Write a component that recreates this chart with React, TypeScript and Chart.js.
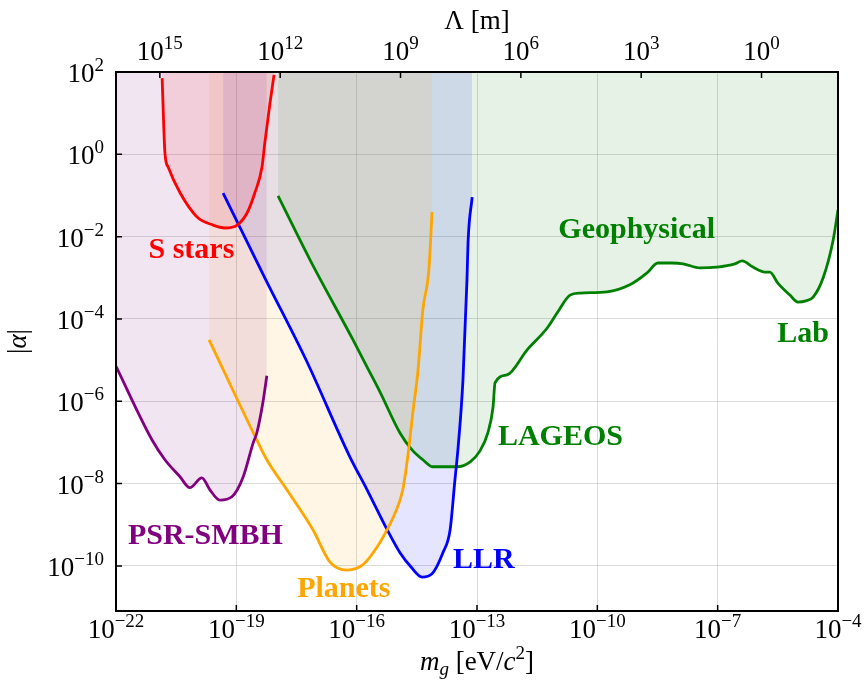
import React, { useEffect, useRef } from 'react';
import { Chart, registerables } from 'chart.js';

Chart.register(...registerables);

// ---- axis ticks (log10 exponents) ----
const xTickExps = [-22, -19, -16, -13, -10, -7, -4];
const yTickExps = [2, 0, -2, -4, -6, -8, -10];
const lambdaTickExps = [15, 12, 9, 6, 3, 0];
const HC_EV_M = 1.2398e-6; // Λ = h c / m_g

// ---- series (log10 m_g [eV/c^2], log10 |alpha|) ----
const psrLogM = [-22.0, -21.1, -20.78, -20.4, -20.16, -19.86, -19.66, -19.41, -19.11, -18.83, -18.58, -18.49, -18.34, -18.24];
const psrLogAlpha = [-5.15, -6.94, -7.42, -7.84, -8.1, -7.86, -8.15, -8.4, -8.32, -7.84, -7.01, -6.77, -6.04, -5.38];

const sStarsLogM = [-20.85, -20.78, -20.7, -20.4, -19.98, -19.58, -19.28, -18.98, -18.73, -18.54, -18.36, -18.29, -18.16, -18.06];
const sStarsLogAlpha = [1.85, 0.03, -0.31, -0.94, -1.52, -1.72, -1.79, -1.72, -1.42, -0.94, -0.31, 0.28, 1.25, 1.93];

const planetsLogM = [-19.68, -18.49, -18.24, -17.74, -17.09, -16.67, -16.24, -15.84, -15.49, -15.24, -15.04, -14.85, -14.72, -14.6, -14.47, -14.35, -14.2, -14.12];
const planetsLogAlpha = [-4.51, -6.94, -7.42, -8.15, -9.12, -9.9, -10.1, -9.97, -9.54, -9.12, -8.71, -8.15, -7.3, -6.28, -5.24, -3.78, -2.81, -1.4];

const llrLogM = [-19.33, -18.29, -17.24, -16.17, -15.74, -15.24, -14.92, -14.65, -14.37, -14.12, -13.85, -13.67, -13.55, -13.47, -13.35, -13.25, -13.22, -13.12];
const llrLogAlpha = [-0.94, -3.0, -5.04, -7.35, -8.15, -9.12, -9.68, -10.02, -10.27, -10.19, -9.68, -9.12, -7.91, -7.11, -5.48, -3.05, -2.08, -1.04];

const geoLogM = [-17.96, -17.16, -16.09, -15.74, -15.42, -14.92, -14.62, -14.35, -14.1, -13.5, -13.17, -12.93, -12.73, -12.6, -12.55, -12.25, -11.75, -11.25, -11.0, -10.68, -10.43, -9.76, -9.19, -8.76, -8.49, -8.14, -7.86, -7.44, -7.02, -6.57, -6.39, -6.12, -5.82, -5.7, -5.5, -5.2, -5.0, -4.8, -4.62, -4.37, -4.12, -4.0];
const geoLogAlpha = [-1.01, -2.57, -4.51, -5.17, -5.77, -6.77, -7.18, -7.42, -7.59, -7.59, -7.47, -7.21, -6.77, -6.14, -5.55, -5.36, -4.75, -4.22, -3.85, -3.42, -3.37, -3.34, -3.17, -2.88, -2.64, -2.64, -2.66, -2.76, -2.74, -2.66, -2.59, -2.74, -2.86, -2.86, -3.13, -3.42, -3.59, -3.56, -3.47, -3.0, -2.08, -1.35];

// ---- annotation labels ----
const labelTexts = ['S stars', 'Geophysical', 'Lab', 'LAGEOS', 'PSR-SMBH', 'Planets', 'LLR'];
const labelLogM = [-20.12, -9.02, -4.87, -10.92, -19.77, -16.32, -12.83];
const labelLogAlpha = [-2.52, -2.03, -4.56, -7.06, -9.46, -10.75, -10.05];
const labelColors = ['#ff0000', '#008000', '#008000', '#008000', '#800080', '#ffa500', '#0000ff'];

const SERIF = '"Liberation Serif", "Times New Roman", serif';

const toPoints = (lm: number[], la: number[]) => lm.map((m, i) => ({ x: Math.pow(10, m), y: Math.pow(10, la[i]) }));

function drawPower(ctx: CanvasRenderingContext2D, exp: number, x: number, y: number, align: 'center' | 'right') {
  const base = '10';
  const sup = exp < 0 ? '\u2212' + Math.abs(exp) : String(exp);
  ctx.font = `27px ${SERIF}`;
  const wb = ctx.measureText(base).width;
  ctx.font = `19px ${SERIF}`;
  const ws = ctx.measureText(sup).width;
  const total = wb + ws;
  const x0 = align === 'center' ? x - total / 2 : x - total;
  ctx.textAlign = 'left';
  ctx.textBaseline = 'alphabetic';
  ctx.font = `27px ${SERIF}`;
  ctx.fillText(base, x0, y);
  ctx.font = `19px ${SERIF}`;
  ctx.fillText(sup, x0 + wb, y - 11);
}

function drawRuns(ctx: CanvasRenderingContext2D, runs: { t: string; f: string; dy: number }[], cx: number, y: number) {
  let total = 0;
  runs.forEach((r) => {
    ctx.font = r.f;
    total += ctx.measureText(r.t).width;
  });
  let x = cx - total / 2;
  ctx.textAlign = 'left';
  ctx.textBaseline = 'alphabetic';
  runs.forEach((r) => {
    ctx.font = r.f;
    ctx.fillText(r.t, x, y + r.dy);
    x += ctx.measureText(r.t).width;
  });
}

const decorPlugin = {
  id: 'decor',
  afterDraw(chart: any) {
    const ctx: CanvasRenderingContext2D = chart.ctx;
    const { left, right, top, bottom } = chart.chartArea;
    const xs = chart.scales.x;
    const ys = chart.scales.y;
    ctx.save();
    ctx.fillStyle = '#000';
    ctx.strokeStyle = '#000';

    // frame
    ctx.lineWidth = 2;
    ctx.strokeRect(left, top, right - left, bottom - top);

    // inward ticks
    ctx.lineWidth = 1.5;
    ctx.beginPath();
    xTickExps.forEach((e) => {
      const px = xs.getPixelForValue(Math.pow(10, e));
      ctx.moveTo(px, bottom);
      ctx.lineTo(px, bottom - 6);
    });
    yTickExps.forEach((e) => {
      const py = ys.getPixelForValue(Math.pow(10, e));
      ctx.moveTo(left, py);
      ctx.lineTo(left + 6, py);
    });
    lambdaTickExps.forEach((e) => {
      const px = xs.getPixelForValue(HC_EV_M / Math.pow(10, e));
      ctx.moveTo(px, top);
      ctx.lineTo(px, top + 6);
    });
    ctx.stroke();

    // tick labels
    xTickExps.forEach((e) => drawPower(ctx, e, xs.getPixelForValue(Math.pow(10, e)), bottom + 27, 'center'));
    yTickExps.forEach((e) => drawPower(ctx, e, left - 12, ys.getPixelForValue(Math.pow(10, e)) + 10, 'right'));
    lambdaTickExps.forEach((e) => drawPower(ctx, e, xs.getPixelForValue(HC_EV_M / Math.pow(10, e)), top - 12, 'center'));

    const cx = (left + right) / 2;
    // top title
    drawRuns(ctx, [{ t: '\u039B [m]', f: `27px ${SERIF}`, dy: 0 }], cx, 29);
    // bottom title
    drawRuns(
      ctx,
      [
        { t: 'm', f: `italic 27px ${SERIF}`, dy: 0 },
        { t: 'g', f: `italic 19px ${SERIF}`, dy: 5 },
        { t: ' [eV/', f: `27px ${SERIF}`, dy: 0 },
        { t: 'c', f: `italic 27px ${SERIF}`, dy: 0 },
        { t: '2', f: `19px ${SERIF}`, dy: -11 },
        { t: ']', f: `27px ${SERIF}`, dy: 0 },
      ],
      cx,
      bottom + 59
    );
    // y title
    ctx.save();
    ctx.translate(26, (top + bottom) / 2);
    ctx.rotate(-Math.PI / 2);
    drawRuns(
      ctx,
      [
        { t: '|', f: `27px ${SERIF}`, dy: 0 },
        { t: '\u03B1', f: `italic 27px ${SERIF}`, dy: 0 },
        { t: '|', f: `27px ${SERIF}`, dy: 0 },
      ],
      0,
      0
    );
    ctx.restore();

    // annotation labels
    ctx.font = `bold 30px ${SERIF}`;
    ctx.textAlign = 'center';
    ctx.textBaseline = 'alphabetic';
    labelTexts.forEach((t, i) => {
      ctx.fillStyle = labelColors[i];
      ctx.fillText(t, xs.getPixelForValue(Math.pow(10, labelLogM[i])), ys.getPixelForValue(Math.pow(10, labelLogAlpha[i])));
    });
    ctx.restore();
  },
};

export default function App() {
  const canvasRef = useRef<HTMLCanvasElement | null>(null);

  useEffect(() => {
    const canvas = canvasRef.current;
    if (!canvas) return;
    const mk = (lm: number[], la: number[], color: string, fillColor: string) => ({
      data: toPoints(lm, la),
      borderColor: color,
      backgroundColor: fillColor,
      borderWidth: 2.8,
      pointRadius: 0,
      cubicInterpolationMode: 'monotone',
      borderJoinStyle: 'round',
      fill: 'end',
    });
    const chart = new Chart(canvas, {
      type: 'line',
      data: {
        datasets: [
          mk(psrLogM, psrLogAlpha, '#800080', 'rgba(128,0,128,0.1)'),
          mk(sStarsLogM, sStarsLogAlpha, '#ff0000', 'rgba(255,0,0,0.1)'),
          mk(planetsLogM, planetsLogAlpha, '#ffa500', 'rgba(255,165,0,0.1)'),
          mk(llrLogM, llrLogAlpha, '#0000ff', 'rgba(0,0,255,0.1)'),
          mk(geoLogM, geoLogAlpha, '#008000', 'rgba(0,128,0,0.1)'),
        ] as any,
      },
      options: {
        responsive: false,
        animation: false,
        devicePixelRatio: 1,
        layout: { padding: { left: 116, top: 72, right: 27, bottom: 71 } },
        plugins: {
          legend: { display: false },
          tooltip: { enabled: false },
          filler: { drawTime: 'beforeDatasetsDraw' } as any,
        },
        scales: {
          x: {
            type: 'logarithmic',
            min: 1e-22,
            max: 1e-4,
            afterBuildTicks: (axis: any) => {
              axis.ticks = xTickExps.map((e) => ({ value: Math.pow(10, e) }));
            },
            ticks: { display: false },
            grid: { color: 'rgba(176,176,176,0.45)', lineWidth: 1, drawTicks: false },
            border: { display: false },
          },
          y: {
            type: 'logarithmic',
            min: Math.pow(10, -11.095),
            max: 100,
            afterBuildTicks: (axis: any) => {
              axis.ticks = yTickExps.map((e) => ({ value: Math.pow(10, e) }));
            },
            ticks: { display: false },
            grid: { color: 'rgba(176,176,176,0.45)', lineWidth: 1, drawTicks: false },
            border: { display: false },
          },
        },
      },
      plugins: [decorPlugin],
    } as any);
    return () => chart.destroy();
  }, []);

  return (
    <div style={{ position: 'fixed', left: 0, top: 0, width: 865, height: 682, background: '#fff' }}>
      <canvas ref={canvasRef} width={865} height={682} style={{ width: 865, height: 682, display: 'block' }} />
    </div>
  );
}
